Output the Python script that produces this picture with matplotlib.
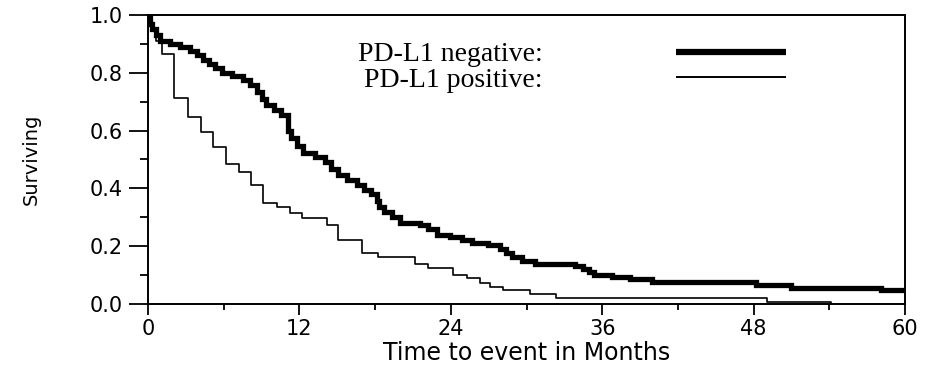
import matplotlib
matplotlib.use("Agg")
import matplotlib.pyplot as plt
import matplotlib.transforms as mtransforms
from matplotlib.lines import Line2D
from matplotlib.ticker import MultipleLocator

# ---- data ----
neg_time = [0.0, 0.16, 0.3, 0.6, 0.95, 1.75, 2.5, 3.3, 3.9, 4.35, 4.85, 5.3, 5.85,
            6.65, 7.5, 8.1, 8.65, 9.05, 9.35, 10.0, 10.55, 11.1, 11.35, 11.8, 12.3,
            13.2, 14.0, 14.5, 15.05, 15.8, 16.6, 17.1, 17.7, 18.15, 18.3, 18.7, 19.3,
            20.0, 21.55, 22.2, 22.9, 23.95, 24.9, 25.7, 26.95, 27.9, 28.4, 28.85,
            29.65, 30.7, 33.85, 34.5, 34.95, 35.35, 36.8, 38.2, 39.95, 48.2, 51.0,
            58.1, 60.0]
neg_surv = [1.0, 0.97, 0.95, 0.93, 0.91, 0.90, 0.89, 0.877, 0.862, 0.845, 0.83, 0.815,
            0.80, 0.79, 0.775, 0.757, 0.735, 0.71, 0.69, 0.672, 0.655, 0.60, 0.575,
            0.545, 0.524, 0.507, 0.493, 0.468, 0.445, 0.43, 0.413, 0.395, 0.38, 0.355,
            0.336, 0.318, 0.30, 0.282, 0.273, 0.258, 0.24, 0.231, 0.222, 0.212, 0.203,
            0.192, 0.178, 0.162, 0.148, 0.14, 0.133, 0.122, 0.11, 0.10, 0.093, 0.087,
            0.077, 0.066, 0.056, 0.049, 0.049]

pos_time = [0.0, 0.25, 0.6, 1.1, 2.1, 3.15, 4.2, 5.15, 6.2, 7.2, 8.2, 9.1, 10.2, 11.25,
            12.2, 14.2, 15.05, 17.0, 18.2, 21.2, 22.2, 24.2, 25.3, 26.3, 27.1, 28.1,
            30.3, 32.3, 49.1, 54.1]
pos_surv = [1.0, 0.95, 0.91, 0.865, 0.713, 0.647, 0.594, 0.542, 0.483, 0.458, 0.413,
            0.35, 0.336, 0.315, 0.297, 0.273, 0.22, 0.175, 0.164, 0.14, 0.126, 0.101,
            0.091, 0.073, 0.059, 0.049, 0.035, 0.021, 0.007, 0.0]

labels = ["PD-L1 negative:", "PD-L1 positive:"]
x_ticks = [0, 12, 24, 36, 48, 60]
y_ticks = [0.0, 0.2, 0.4, 0.6, 0.8, 1.0]
x_label = "Time to event in Months"
y_label = "Surviving"

# ---- figure ----
fig = plt.figure(figsize=(9.48, 3.67), dpi=100)
ax = fig.add_axes([148 / 948, 1 - 304 / 367, (905 - 148) / 948, (304 - 15) / 367])

ax.step(neg_time, neg_surv, where="post", color="black", lw=3.8,
        solid_joinstyle="miter", solid_capstyle="butt")
ax.step(pos_time, pos_surv, where="post", color="black", lw=1.2)

ax.set_xlim(0, 60)
ax.set_ylim(0, 1.0)
ax.set_xticks(x_ticks)
ax.set_yticks(y_ticks)
ax.set_yticklabels([f"{v:.1f}" for v in y_ticks])
ax.xaxis.set_minor_locator(MultipleLocator(6))
ax.yaxis.set_minor_locator(MultipleLocator(0.1))

for s in ax.spines.values():
    s.set_linewidth(1.4)

ax.tick_params(axis="y", which="major", length=14, width=1.3, pad=4, labelsize=15)
ax.tick_params(axis="y", which="minor", length=6, width=1.3)
ax.tick_params(axis="x", which="major", length=8, width=1.3, pad=3, labelsize=15)
ax.tick_params(axis="x", which="minor", length=4, width=1.3)
for lab in ax.get_xticklabels() + ax.get_yticklabels():
    lab.set_fontfamily(["DejaVu Sans"])

ax.set_xlabel(x_label, fontsize=17, family=["DejaVu Sans"], labelpad=1)
ax.set_ylabel(y_label, fontsize=14, family=["DejaVu Sans"])
ax.yaxis.set_label_coords(41 / 948, 0.5,
                          transform=mtransforms.blended_transform_factory(
                              fig.transFigure, ax.transAxes))

handles = [Line2D([], [], color="black", lw=4.5, solid_capstyle="butt"),
           Line2D([], [], color="black", lw=1.4, solid_capstyle="butt")]
leg = ax.legend(handles, labels, loc="upper left",
                bbox_to_anchor=(358 / 948, 1 - 42 / 367), bbox_transform=fig.transFigure,
                frameon=False, markerfirst=False, handlelength=3.95,
                handletextpad=4.8, labelspacing=0.0, borderpad=0, borderaxespad=0,
                prop=dict(family=["Liberation Serif"], size=20))

fig.savefig("out.png", dpi=100)
